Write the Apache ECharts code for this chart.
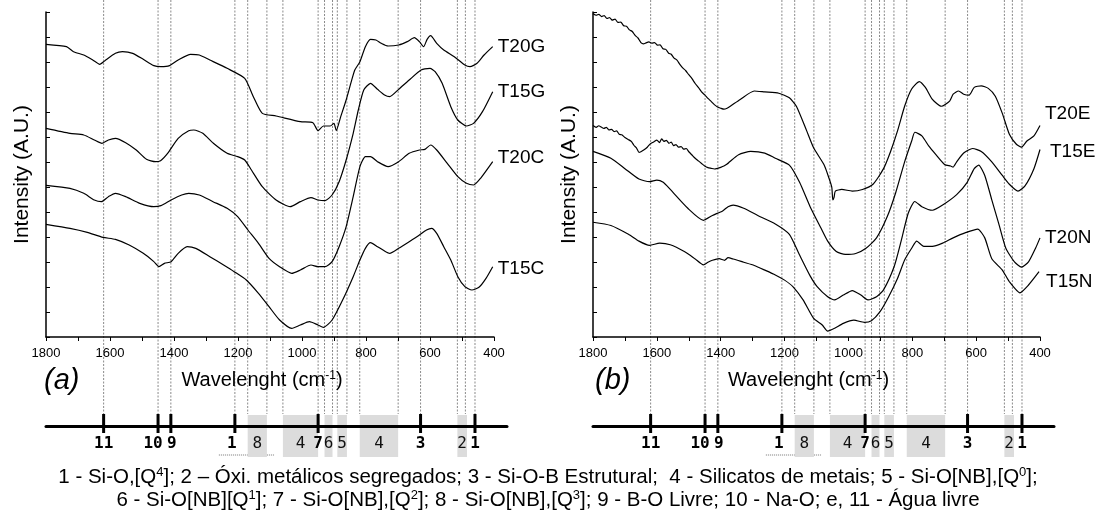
<!DOCTYPE html>
<html>
<head>
<meta charset="utf-8">
<script src="https://cdn.jsdelivr.net/npm/echarts@6/dist/echarts.min.js"></script>
<style>
  html, body { margin: 0; padding: 0; background: #fff; }
  #chart { width: 1096px; height: 529px; }
</style>
</head>
<body>
<div id="chart"></div>
<script>
// band assignments (cm-1)
const bandLines = [1620, 1450, 1410, 1210, 1170, 1110, 1060, 950, 930, 905, 890, 860, 820, 700, 630, 515, 490, 460];
const bandBoxes = [[1170, 1110, '8'], [1060, 950, '4'], [930, 905, '6'], [890, 860, '5'], [820, 700, '4'], [515, 485, '2']];
const bandTicks = [[1620, '11'], [1450, '10'], [1410, '9'], [1210, '1'], [950, '7'], [630, '3'], [460, '1']];
const bandUnderline = [[1260, 1085]];
const tickLabelShift = [0, -5, 1, -3, 0, 0, 0];

// panel (a)
const t20g = [[1800,87.8],[1736,87.1],[1714,85.6],[1682,84.6],[1654,83.1],[1632,81.8],[1616,82.9],[1583,85.1],[1561,85.6],[1529,85.1],[1496,83.3],[1463,81.4],[1441,81.1],[1414,81.4],[1387,83.1],[1348,84.8],[1321,84.6],[1288,83.1],[1234,80.6],[1179,77.6],[1152,72.1],[1124,67.1],[1081,66.3],[1005,64.6],[966,64.3],[950,61.9],[933,63.3],[912,63.3],[900,64.1],[893,61.9],[879,66.1],[862,71.1],[846,76.6],[835,80.1],[819,82.6],[802,87.1],[786,89.3],[769,89.1],[752,88.1],[731,87.3],[698,87.6],[671,88.6],[649,89.8],[633,88.6],[620,87.1],[609,89.3],[598,90.4],[579,88.1],[557,86.1],[524,84.1],[491,81.6],[475,81.1],[453,82.1],[431,84.6],[404,87.1]];
const t15g = [[1800,62.6],[1725,61.1],[1682,60.6],[1649,59.1],[1625,58.1],[1605,59.1],[1583,59.6],[1551,58.3],[1518,56.1],[1486,53.3],[1458,52.6],[1442,52.9],[1420,55.1],[1387,59.6],[1354,61.9],[1338,62.1],[1310,61.1],[1277,58.1],[1234,55.1],[1201,54.1],[1179,53.1],[1158,50.1],[1124,45.1],[1081,41.1],[1037,39.1],[1005,40.6],[972,41.8],[950,41.1],[928,40.9],[906,42.6],[884,46.6],[862,53.1],[840,61.1],[824,68.1],[807,74.1],[786,76.1],[764,74.3],[742,72.6],[726,72.1],[698,74.3],[665,77.1],[628,80.1],[600,80.6],[584,79.6],[562,76.1],[535,69.1],[513,65.1],[486,63.3],[464,64.1],[436,67.6],[404,73.6]];
const t20c = [[1800,45.5],[1725,44.6],[1682,43.1],[1649,41.1],[1627,40.6],[1605,42.1],[1583,43.1],[1551,42.1],[1507,40.1],[1463,39.1],[1441,39.4],[1409,41.1],[1376,42.6],[1354,43.1],[1321,42.6],[1278,40.6],[1234,38.6],[1201,36.1],[1169,32.1],[1136,28.1],[1103,23.6],[1070,21.1],[1032,19.1],[1005,20.1],[972,21.6],[950,21.1],[928,21.1],[906,22.6],[884,27.1],[862,33.1],[840,42.1],[819,51.1],[802,54.1],[786,54.1],[764,52.6],[731,51.1],[698,52.6],[665,55.1],[633,56.1],[616,56.3],[598,57.6],[579,56.1],[546,52.1],[513,48.1],[486,46.1],[464,45.6],[442,47.6],[404,52.6]];
const t15c = [[1800,33.8],[1725,32.6],[1671,31.4],[1622,29.9],[1583,29.3],[1540,27.6],[1496,25.1],[1463,22.6],[1447,21.1],[1430,22.1],[1409,22.6],[1387,25.1],[1359,27.1],[1332,26.6],[1288,24.1],[1245,21.6],[1212,19.6],[1174,17.1],[1136,13.1],[1103,9.1],[1070,5.1],[1032,2.6],[1005,3.6],[977,4.6],[950,3.6],[933,2.9],[906,5.1],[873,11.1],[840,18.1],[819,23.1],[802,26.6],[786,28.3],[764,27.1],[742,25.8],[726,25.1],[698,26.6],[665,28.6],[633,30.6],[611,32.1],[595,32.6],[579,31.1],[557,27.1],[535,23.1],[513,18.1],[491,15.1],[469,14.1],[447,14.9],[425,17.6],[404,21.1]];

// panel (b)
const t20e = [[1800,99.5],[1790,99.0],[1782,99.3],[1773,98.6],[1765,98.9],[1756,98.0],[1748,98.3],[1740,97.5],[1731,97.8],[1722,96.8],[1713,96.9],[1704,95.8],[1695,95.6],[1686,94.5],[1677,94.0],[1668,92.8],[1659,92.0],[1650,90.6],[1642,90.2],[1634,90.5],[1625,90.8],[1616,90.4],[1607,90.6],[1598,89.8],[1590,89.9],[1581,88.7],[1572,88.5],[1563,87.3],[1555,87.0],[1546,85.8],[1537,85.2],[1528,83.9],[1519,82.8],[1510,82.0],[1500,80.7],[1490,79.5],[1480,78.0],[1470,76.8],[1460,75.4],[1450,74.5],[1440,73.4],[1430,72.5],[1420,71.5],[1410,70.8],[1400,70.4],[1390,70.1],[1380,70.4],[1370,71.0],[1339,73.1],[1295,75.7],[1262,75.4],[1218,75.0],[1185,73.6],[1163,71.0],[1131,63.5],[1109,58.2],[1076,52.9],[1060,48.6],[1052,46.0],[1049,42.2],[1045,43.0],[1041,44.9],[1021,45.4],[988,44.9],[956,45.4],[923,47.0],[890,51.8],[868,57.1],[846,63.5],[824,71.0],[802,76.3],[778,78.6],[759,76.8],[737,73.1],[709,71.0],[683,72.6],[672,74.7],[655,75.7],[639,74.7],[622,74.4],[606,76.8],[584,77.3],[562,76.5],[540,74.1],[518,68.8],[496,62.4],[474,59.3],[458,58.4],[441,60.3],[419,61.9],[400,65.1]];
const t15e = [[1800,65.1],[1790,64.5],[1782,65.0],[1774,64.6],[1766,64.2],[1758,64.5],[1750,63.7],[1742,63.9],[1734,63.2],[1726,63.4],[1718,62.4],[1710,62.2],[1700,61.4],[1690,60.8],[1680,60.2],[1672,59.0],[1664,58.2],[1656,56.8],[1650,57.0],[1640,57.6],[1630,58.4],[1620,59.5],[1610,60.0],[1600,60.6],[1592,59.8],[1585,61.0],[1578,60.2],[1570,60.5],[1562,59.6],[1555,60.0],[1548,58.9],[1540,59.2],[1532,58.4],[1524,58.6],[1516,57.8],[1508,58.0],[1500,57.0],[1490,56.0],[1480,55.0],[1470,54.2],[1460,53.4],[1450,52.6],[1440,52.1],[1430,51.9],[1420,51.7],[1410,51.9],[1400,52.2],[1390,52.6],[1380,53.2],[1372,53.9],[1344,56.1],[1306,57.1],[1262,56.6],[1229,55.0],[1185,52.9],[1153,47.6],[1120,40.1],[1087,33.7],[1065,29.5],[1038,26.3],[1010,25.4],[977,25.7],[945,27.3],[912,30.5],[879,36.9],[852,44.4],[824,53.9],[802,60.3],[792,63.0],[770,61.9],[748,58.7],[726,56.1],[699,53.1],[680,52.6],[672,52.3],[661,53.9],[639,56.6],[611,58.0],[584,57.1],[551,53.9],[518,49.7],[496,47.0],[469,44.9],[447,46.5],[419,51.8],[400,57.7]];
const t20n = [[1800,57.1],[1744,55.0],[1700,51.8],[1656,48.6],[1623,47.8],[1600,48.3],[1580,47.6],[1558,45.4],[1503,39.6],[1454,35.9],[1426,37.4],[1394,38.8],[1377,40.1],[1361,40.6],[1328,39.6],[1284,37.4],[1229,34.8],[1185,31.6],[1153,25.2],[1120,18.8],[1098,15.5],[1065,12.4],[1043,11.4],[1016,12.9],[988,14.3],[961,12.9],[939,11.4],[912,12.4],[890,14.5],[857,21.6],[835,29.5],[813,38.0],[792,41.7],[770,40.1],[737,39.0],[705,40.6],[661,43.8],[628,47.6],[606,51.8],[592,52.9],[573,49.7],[551,42.2],[529,34.8],[507,27.3],[480,23.1],[458,21.5],[436,23.1],[414,27.3],[400,30.5]];
const t15n = [[1800,35.3],[1744,34.3],[1689,31.6],[1656,29.5],[1623,28.2],[1591,28.9],[1558,28.4],[1514,26.3],[1481,24.1],[1454,22.2],[1440,23.0],[1426,23.6],[1405,24.1],[1388,23.6],[1377,24.4],[1361,24.0],[1328,23.0],[1295,22.0],[1260,20.5],[1229,19.1],[1200,17.5],[1174,15.5],[1142,11.4],[1109,5.7],[1082,3.7],[1065,1.8],[1043,2.7],[1016,4.2],[983,5.2],[950,4.5],[928,5.0],[901,7.8],[874,12.4],[846,18.1],[824,23.7],[802,27.3],[786,29.5],[764,27.9],[737,27.9],[705,28.9],[672,30.5],[633,32.1],[595,33.2],[573,30.5],[551,24.1],[518,20.6],[496,17.0],[463,13.6],[436,16.0],[403,20.1]];

const FONT = 'Arial, "Liberation Sans", Helvetica, sans-serif';
const MONO = '"DejaVu Sans Mono", monospace';

let myChart = echarts.init(document.getElementById('chart'));

function specSeries(name, data, idx, dx, dy) {
    const last = data.length - 1;
    return {
        name: name,
        type: 'line',
        xAxisIndex: idx,
        yAxisIndex: idx,
        data: data.map((p, i) => i === last ? {value: p, label: {show: true}} : p),
        symbol: 'circle',
        symbolSize: 0,
        showSymbol: true,
        showAllSymbol: true,
        smooth: 0.2,
        silent: true,
        z: 5,
        lineStyle: {color: '#000', width: 1.2},
        label: {
            show: false, position: 'right', distance: 5, offset: [dx, dy],
            formatter: name, color: '#000', fontSize: 19, fontFamily: FONT
        }
    };
}

function bandSeries(idx) {
    return [
        {
            type: 'custom', xAxisIndex: idx, yAxisIndex: idx, silent: true, z: -1,
            data: bandLines.map(w => [w, 0]),
            renderItem: function (params, api) {
                const a = api.coord([api.value(0), 426]);
                const b = api.coord([api.value(0), 12]);
                return {
                    type: 'line',
                    shape: {x1: a[0], y1: a[1], x2: b[0], y2: b[1]},
                    style: {stroke: '#8a8a8a', lineWidth: 1, lineDash: [2, 1.5]}
                };
            }
        },
        {
            type: 'custom', xAxisIndex: idx, yAxisIndex: idx, silent: true, z: -1,
            data: bandUnderline,
            renderItem: function (params, api) {
                const a = api.coord([api.value(0), -29]);
                const b = api.coord([api.value(1), -29]);
                return {
                    type: 'line',
                    shape: {x1: a[0], y1: a[1], x2: b[0], y2: b[1]},
                    style: {stroke: '#777', lineWidth: 1, lineDash: [1, 1]}
                };
            }
        },
        {
            type: 'custom', xAxisIndex: idx, yAxisIndex: idx, silent: true, z: -1,
            data: bandBoxes.map(b => [b[0], b[1]]),
            renderItem: function (params, api) {
                const p1 = api.coord([api.value(0), 11]);
                const p2 = api.coord([api.value(1), -31]);
                const ly = api.coord([api.value(0), -18])[1];
                return {
                    type: 'group',
                    children: [
                        {type: 'rect', shape: {x: p1[0], y: p1[1], width: p2[0] - p1[0], height: p2[1] - p1[1]},
                         style: {fill: '#dcdcdc'}},
                        {type: 'text', x: (p1[0] + p2[0]) / 2, y: ly,
                         style: {text: bandBoxes[params.dataIndex][2], fill: '#111', fontSize: 16, fontFamily: MONO,
                                 align: 'center', verticalAlign: 'middle'}}
                    ]
                };
            }
        },
        {
            type: 'custom', xAxisIndex: idx, yAxisIndex: idx, silent: true, z: 3,
            data: bandTicks.map(t => [t[0], 0]),
            renderItem: function (params, api) {
                const top = api.coord([api.value(0), 12]);
                const bot = api.coord([api.value(0), -7]);
                const ly = api.coord([api.value(0), -18])[1];
                return {
                    type: 'group',
                    children: [
                        {type: 'rect', shape: {x: top[0] - 1.5, y: top[1], width: 3, height: bot[1] - top[1]},
                         style: {fill: '#000'}},
                        {type: 'text', x: top[0] + tickLabelShift[params.dataIndex], y: ly,
                         style: {text: bandTicks[params.dataIndex][1], fill: '#000', fontSize: 16, fontWeight: 'bold',
                                 fontFamily: MONO, align: 'center', verticalAlign: 'middle'}}
                    ]
                };
            }
        }
    ];
}

function specX(idx) {
    return {
        gridIndex: idx, type: 'value', min: 400, max: 1800, interval: 100, inverse: true,
        axisLine: {show: true, lineStyle: {color: '#000', width: 1.5}},
        axisTick: {show: true, length: 4, lineStyle: {color: '#000'}},
        axisLabel: {
            margin: 10, color: '#000', fontSize: 13, fontFamily: FONT,
            formatter: v => (v % 200 === 0 ? String(v) : '')
        },
        splitLine: {show: false},
        name: 'Wavelenght (cm{sup|-1})',
        nameLocation: 'middle',
        nameGap: 33,
        nameTextStyle: {
            color: '#000', fontSize: 20, fontFamily: FONT, padding: [0, 16, 0, 0],
            rich: {sup: {fontSize: 12, verticalAlign: 'top', color: '#000', fontFamily: FONT}}
        }
    };
}

function specY(idx, max, interval) {
    return {
        gridIndex: idx, type: 'value', min: 0, max: max, interval: interval,
        axisLine: {show: true, lineStyle: {color: '#000', width: 1.5}},
        axisTick: {show: true, inside: true, length: 4, lineStyle: {color: '#000'}},
        axisLabel: {show: false},
        splitLine: {show: false},
        name: 'Intensity (A.U.)',
        nameLocation: 'middle',
        nameGap: 13,
        nameTextStyle: {color: '#000', fontSize: 21, fontFamily: FONT}
    };
}

function bandX(idx) {
    return {
        gridIndex: idx, type: 'value', min: 360, max: 1800, inverse: true,
        axisLine: {show: true, lineStyle: {color: '#000', width: 3}},
        axisTick: {show: false}, axisLabel: {show: false}, splitLine: {show: false}
    };
}

function bandY(idx) {
    return {gridIndex: idx, type: 'value', min: 0, max: 426, show: false};
}

const supStyle = {fontSize: 13, verticalAlign: 'top', lineHeight: 23, fill: '#000'};

myChart.setOption({
    animation: false,
    backgroundColor: '#fff',
    textStyle: {fontFamily: FONT},
    grid: [
        {left: 46, top: 12, width: 448, height: 325},
        {left: 46, top: 0, width: 461, height: 426},
        {left: 593, top: 12, width: 447, height: 325},
        {left: 593, top: 0, width: 461, height: 426}
    ],
    xAxis: [specX(0), bandX(1), specX(2), bandX(3)],
    yAxis: [specY(0, 97.5, 7.5), bandY(1), specY(2, 100, 100 / 13), bandY(3)],
    series: [
        specSeries('T20G', t20g, 0, 0, 0),
        specSeries('T15G', t15g, 0, 0, 0),
        specSeries('T20C', t20c, 0, 0, -4),
        specSeries('T15C', t15c, 0, 0, 2),
        specSeries('T20E', t20e, 2, 0, -12),
        specSeries('T15E', t15e, 2, 5, 2),
        specSeries('T20N', t20n, 2, 0, 0),
        specSeries('T15N', t15n, 2, 2, 10)
    ].concat(bandSeries(1), bandSeries(3)),
    graphic: [
        {type: 'text', left: 44, top: 366, style: {text: '(a)', font: 'italic 29px ' + FONT, fill: '#000'}},
        {type: 'text', left: 595, top: 366, style: {text: '(b)', font: 'italic 29px ' + FONT, fill: '#000'}},
        {
            type: 'text', left: 'center', top: 466,
            style: {
                text: '1 - Si-O,[Q{s|4}]; 2 \u2013 \u00d3xi. met\u00e1licos segregados; 3 - Si-O-B Estrutural;  4 - Silicatos de metais; 5 - Si-O[NB],[Q{s|0}];',
                fill: '#000', fontSize: 20.5, fontFamily: FONT, lineHeight: 23,
                rich: {s: supStyle}
            }
        },
        {
            type: 'text', left: 'center', top: 489,
            style: {
                text: '6 - Si-O[NB][Q{s|1}]; 7 - Si-O[NB],[Q{s|2}]; 8 - Si-O[NB],[Q{s|3}]; 9 - B-O Livre; 10 - Na-O; e, 11 - \u00c1gua livre',
                fill: '#000', fontSize: 20.5, fontFamily: FONT, lineHeight: 23,
                rich: {s: supStyle}
            }
        }
    ]
});
</script>
</body>
</html>
